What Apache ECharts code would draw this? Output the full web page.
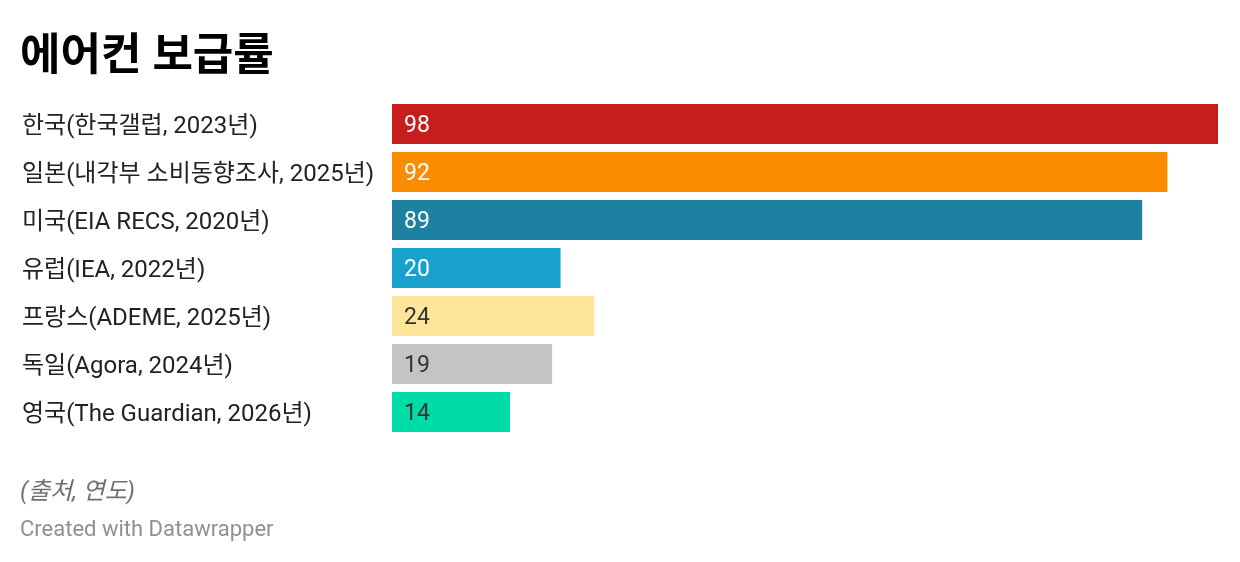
<!DOCTYPE html>
<html>
<head>
<meta charset="utf-8">
<script src="https://cdn.jsdelivr.net/npm/echarts@6/dist/echarts.min.js"></script>
<style>
  html, body { margin: 0; padding: 0; background: #fff; }
  #chart { width: 1240px; height: 562px; }
</style>
</head>
<body>
<div id="chart"></div>
<script>
var categories = [
  '한국(한국갤럽, 2023년)',
  '일본(내각부 소비동향조사, 2025년)',
  '미국(EIA RECS, 2020년)',
  '유럽(IEA, 2022년)',
  '프랑스(ADEME, 2025년)',
  '독일(Agora, 2024년)',
  '영국(The Guardian, 2026년)'
];
var values = [98, 92, 89, 20, 24, 19, 14];
var barColors = ['#c71e1d', '#fa8c00', '#1d81a2', '#18a1cd', '#ffe59c', '#c4c4c4', '#00dca6'];
var labelColors = ['#fff', '#fff', '#fff', '#fff', '#333', '#333', '#333'];

var font = "Roboto, 'Noto Sans CJK KR', sans-serif";
var chart = echarts.init(document.getElementById('chart'));

chart.setOption({
  animation: false,
  textStyle: { fontFamily: font },
  title: [
    {
      text: '에어컨 보급률',
      left: 20, top: 37, padding: 0,
      textStyle: { fontFamily: font, fontSize: 44, fontWeight: 'bold', color: '#000' }
    },
    {
      text: '(출처, 연도)',
      left: 20, top: 481, padding: 0,
      textStyle: { fontFamily: font, fontSize: 24, fontStyle: 'italic', fontWeight: 'normal', color: '#707070' }
    },
    {
      text: 'Created with Datawrapper',
      left: 20, top: 519, padding: 0,
      textStyle: { fontFamily: font, fontSize: 22, fontWeight: 'normal', color: '#909090' }
    }
  ],
  grid: { left: 392, right: 22, top: 100, height: 336 },
  xAxis: {
    type: 'value', min: 0, max: 98,
    show: false
  },
  yAxis: {
    type: 'category', inverse: true,
    data: categories,
    axisLine: { show: false },
    axisTick: { show: false },
    splitLine: { show: false },
    axisLabel: {
      align: 'left', margin: 370,
      formatter: '{a|{value}}',
      rich: {
        a: { padding: [6, 0, 0, 0], fontFamily: font, fontSize: 24, color: '#222' }
      }
    }
  },
  series: [{
    type: 'bar',
    barWidth: 40,
    data: values.map(function (v, i) {
      return {
        value: v,
        itemStyle: { color: barColors[i] },
        label: { color: labelColors[i] }
      };
    }),
    label: {
      show: true, position: 'insideLeft', distance: 12, offset: [0, 2],
      fontFamily: font, fontSize: 23
    }
  }]
});
</script>
</body>
</html>
